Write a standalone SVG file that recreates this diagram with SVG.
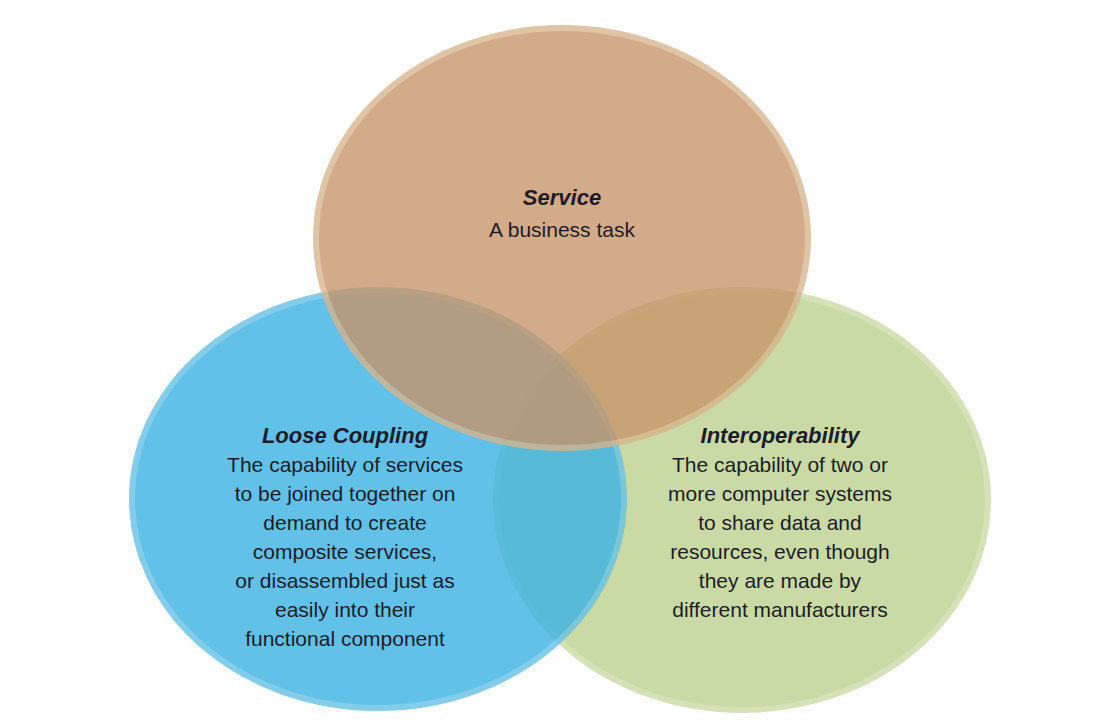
<svg xmlns="http://www.w3.org/2000/svg" width="1106" height="726" viewBox="0 0 1106 726">
<style>
text{font-family:"Liberation Sans",Arial,sans-serif;font-size:21px;fill:#1c1c28;text-anchor:middle}
.t{font-weight:bold;font-style:italic;font-size:22px}
.c{stroke-width:6}
</style>
<rect width="1106" height="726" fill="#fff"/>
<g id="interoperability">
<ellipse class="c" cx="742" cy="500" rx="246" ry="210" fill="#c8d9a0" stroke="#d3e0b4" opacity="0.95"/>
</g>
<g id="loose-coupling">
<ellipse class="c" cx="378" cy="499" rx="246" ry="209" fill="#3fb4e4" stroke="#6ac3e6" opacity="0.82"/>
</g>
<g id="service">
<ellipse class="c" cx="562" cy="238" rx="246" ry="210" fill="#c89468" stroke="#d8b48e" opacity="0.78"/>
</g>
<g id="connectors"></g>
<g id="labels">
<text class="t" x="562" y="205">Service</text>
<text x="562" y="237">A business task</text>
<text class="t" x="345" y="443">Loose Coupling</text>
<text x="345" y="472">The capability of services</text>
<text x="345" y="501">to be joined together on</text>
<text x="345" y="530">demand to create</text>
<text x="345" y="559">composite services,</text>
<text x="345" y="588">or disassembled just as</text>
<text x="345" y="617">easily into their</text>
<text x="345" y="646">functional component</text>
<text class="t" x="780" y="443">Interoperability</text>
<text x="780" y="472">The capability of two or</text>
<text x="780" y="501">more computer systems</text>
<text x="780" y="530">to share data and</text>
<text x="780" y="559">resources, even though</text>
<text x="780" y="588">they are made by</text>
<text x="780" y="617">different manufacturers</text>
</g>
</svg>
